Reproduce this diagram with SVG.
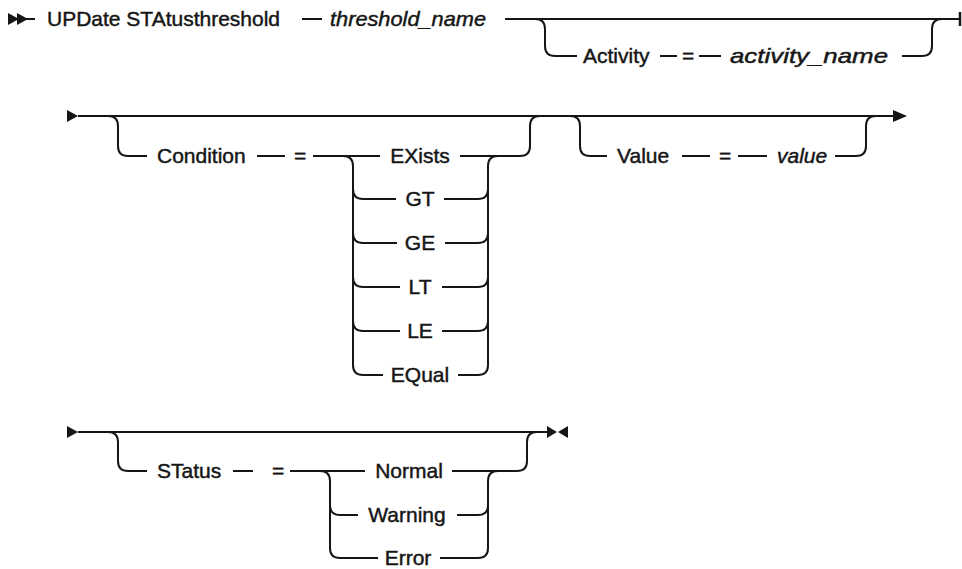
<svg xmlns="http://www.w3.org/2000/svg" width="962" height="569" viewBox="0 0 962 569">
<style>
.ln{fill:none;stroke:#161616;stroke-width:2}
.t{font-family:"Liberation Sans",Arial,sans-serif;font-size:21px;fill:#161616;stroke:#161616;stroke-width:0.45}
.i{font-style:italic}
.c{text-anchor:middle}
.mk{fill:#161616}
</style>
<defs>
<path id="triR" d="M0,-6 L11,0 L0,6 Z"/>
</defs>
<rect width="962" height="569" fill="#ffffff"/>
<g id="connectors">
<!-- row 1 -->
<use href="#triR" class="mk" x="8" y="19"/>
<use href="#triR" class="mk" x="17" y="19"/>
<path class="ln" d="M26,19 L35,19"/>
<path class="ln" d="M302,19 L322,19"/>
<path class="ln" d="M505,19 L960,19"/>
<path class="ln" d="M960,12 L960,26" style="stroke-width:2.5"/>
<path class="ln" d="M535,19 Q545,19 545,29 L545,46 Q545,56 555,56 L577,56"/>
<path class="ln" d="M660,56 L677,56"/>
<path class="ln" d="M699,56 L721,56"/>
<path class="ln" d="M902,56 L922,56 Q932,56 932,46 L932,29 Q932,19 942,19"/>
<!-- row 2 -->
<use href="#triR" class="mk" x="67" y="116"/>
<path class="ln" d="M78,116 L893,116"/>
<path class="mk" d="M893,110 L907,116 L893,122 Z"/>
<path class="ln" d="M108,116 Q118,116 118,126 L118,146 Q118,156 128,156 L147,156"/>
<path class="ln" d="M257,156 L285,156"/>
<path class="ln" d="M313,156 L380,156"/>
<path class="ln" d="M343,156 Q353,156 353,166 L353,365 Q353,375 363,375 L383,375"/>
<path class="ln" d="M353,189 Q353,199 363,199 L396,199"/>
<path class="ln" d="M444,199 L478,199 Q488,199 488,189"/>
<path class="ln" d="M353,233 Q353,243 363,243 L397,243"/>
<path class="ln" d="M445,243 L478,243 Q488,243 488,233"/>
<path class="ln" d="M353,277 Q353,287 363,287 L400,287"/>
<path class="ln" d="M442,287 L478,287 Q488,287 488,277"/>
<path class="ln" d="M353,321 Q353,331 363,331 L400,331"/>
<path class="ln" d="M442,331 L478,331 Q488,331 488,321"/>
<path class="ln" d="M458,375 L478,375 Q488,375 488,365 L488,166 Q488,156 498,156"/>
<path class="ln" d="M460,156 L520,156 Q530,156 530,146 L530,126 Q530,116 540,116"/>
<path class="ln" d="M570,116 Q580,116 580,126 L580,146 Q580,156 590,156 L607,156"/>
<path class="ln" d="M682,156 L710,156"/>
<path class="ln" d="M738,156 L767,156"/>
<path class="ln" d="M835,156 L856,156 Q866,156 866,146 L866,126 Q866,116 876,116"/>
<!-- row 3 -->
<use href="#triR" class="mk" x="67" y="432"/>
<path class="ln" d="M78,432 L547,432"/>
<path class="mk" d="M547,426 L557,432 L547,438 Z M568,426 L558,432 L568,438 Z"/>
<path class="ln" d="M108,432 Q118,432 118,442 L118,461 Q118,471 128,471 L147,471"/>
<path class="ln" d="M233,471 L253,471"/>
<path class="ln" d="M290,471 L365,471"/>
<path class="ln" d="M320,471 Q330,471 330,481 L330,548 Q330,558 340,558 L378,558"/>
<path class="ln" d="M330,505 Q330,515 340,515 L358,515"/>
<path class="ln" d="M457,515 L478,515 Q488,515 488,505"/>
<path class="ln" d="M440,558 L478,558 Q488,558 488,548 L488,481 Q488,471 498,471"/>
<path class="ln" d="M452,471 L517,471 Q527,471 527,461 L527,442 Q527,432 537,432"/>
</g>
<g id="n_cmd"><text class="t" x="47" y="26">UPDate STAtusthreshold</text></g>
<g id="n_threshold_name"><text class="t i" x="330" y="26" textLength="156" lengthAdjust="spacingAndGlyphs">threshold_name</text></g>
<g id="n_activity"><text class="t" x="583" y="63">Activity</text></g>
<g id="n_eq1"><text class="t" x="682" y="63">=</text></g>
<g id="n_activity_name"><text class="t i" x="730" y="63" textLength="158" lengthAdjust="spacingAndGlyphs">activity_name</text></g>
<g id="n_condition"><text class="t" x="157" y="163">Condition</text></g>
<g id="n_eq2"><text class="t" x="294" y="163">=</text></g>
<g id="n_exists"><text class="t c" x="420" y="163">EXists</text></g>
<g id="n_gt"><text class="t c" x="420" y="206">GT</text></g>
<g id="n_ge"><text class="t c" x="420" y="250">GE</text></g>
<g id="n_lt"><text class="t c" x="420" y="294">LT</text></g>
<g id="n_le"><text class="t c" x="420" y="338">LE</text></g>
<g id="n_equal"><text class="t c" x="420" y="382">EQual</text></g>
<g id="n_value_kw"><text class="t" x="617" y="163">Value</text></g>
<g id="n_eq3"><text class="t" x="719" y="163">=</text></g>
<g id="n_value"><text class="t i" x="777" y="163">value</text></g>
<g id="n_status"><text class="t" x="157" y="478">STatus</text></g>
<g id="n_eq4"><text class="t" x="272" y="478">=</text></g>
<g id="n_normal"><text class="t c" x="409" y="478">Normal</text></g>
<g id="n_warning"><text class="t c" x="407" y="522">Warning</text></g>
<g id="n_error"><text class="t c" x="408" y="565">Error</text></g>
</svg>
